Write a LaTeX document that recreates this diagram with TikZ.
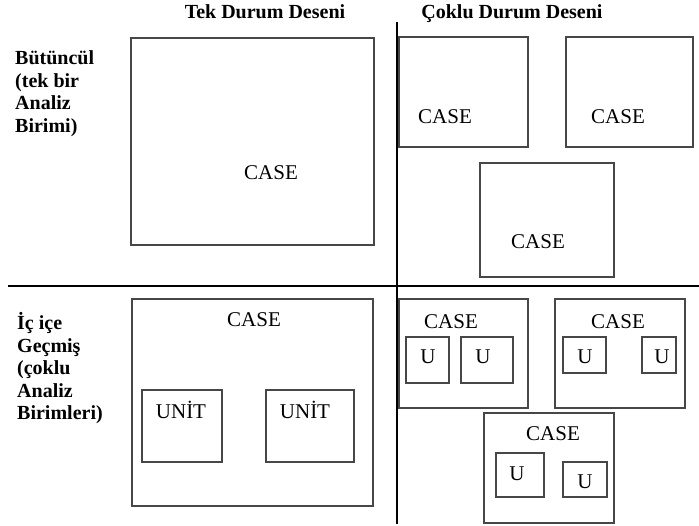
\documentclass[tikz,border=0pt]{standalone}
\usepackage{fontspec}
\setmainfont{Liberation Serif}
\begin{document}
\begin{tikzpicture}[x=1pt,y=-1pt,
  box/.style={draw=black!72,line width=1.3pt},
  divider/.style={draw=black,line width=2.8pt},
  lbl/.style={inner sep=0pt,anchor=base,font=\fontsize{21}{23}\selectfont},
  side/.style={inner sep=0pt,anchor=base west,font=\fontsize{20}{22.5}\selectfont\bfseries},
  head/.style={inner sep=0pt,anchor=base,font=\fontsize{20}{22.5}\selectfont\bfseries}]
\useasboundingbox (0,0) rectangle (699,526);
% headings
\node[head] (h1) at (265,19) {Tek Durum Deseni};
\node[head] (h2) at (512,19) {Çoklu Durum Deseni};
% side labels
\node[side] (s1) at (15,65) {Bütüncül};
\node[side] (s2) at (15,87.5) {(tek bir};
\node[side] (s3) at (15,110) {Analiz};
\node[side] (s4) at (15,132.5) {Birimi)};
\node[side] (s5) at (17,330) {İç içe};
\node[side] (s6) at (17,352.5) {Geçmiş};
\node[side] (s7) at (17,375) {(çoklu};
\node[side] (s8) at (17,397.5) {Analiz};
\node[side] (s9) at (17,420) {Birimleri)};
% dividers
\coordinate (vt) at (397,22);
\coordinate (vb) at (397,524);
\coordinate (hl) at (8,286);
\coordinate (hr) at (699,286);
\draw[divider] (vt) -- (vb);
\draw[divider] (hl) -- (hr);
% top-left
\draw[box] (131,38) rectangle (374,245);
\node[lbl] (c1) at (271,180) {CASE};
% top-right
\draw[box] (399,37) rectangle (528,147);
\node[lbl] (c2) at (445,124) {CASE};
\draw[box] (566,37) rectangle (693,147);
\node[lbl] (c3) at (618,124) {CASE};
\draw[box] (480,163) rectangle (614,277);
\node[lbl] (c4) at (538,249) {CASE};
% bottom-left
\draw[box] (132,299) rectangle (373,506);
\node[lbl] (c5) at (254,327) {CASE};
\draw[box] (142,390) rectangle (222,462);
\node[lbl] (u1) at (181,419) {UNİT};
\draw[box] (266,390) rectangle (354,462);
\node[lbl] (u2) at (305,419) {UNİT};
% bottom-right
\draw[box] (399,299) rectangle (528,408);
\node[lbl] (c6) at (451,329) {CASE};
\draw[box] (406,337) rectangle (449,383);
\node[lbl] (u3) at (428,364) {U};
\draw[box] (461,337) rectangle (513,383);
\node[lbl] (u4) at (483,364) {U};
\draw[box] (555,299) rectangle (685,408);
\node[lbl] (c7) at (618,329) {CASE};
\draw[box] (563,337) rectangle (606,373);
\node[lbl] (u5) at (585,364) {U};
\draw[box] (642,337) rectangle (676,373);
\node[lbl] (u6) at (662,364) {U};
\draw[box] (484,413) rectangle (614,523);
\node[lbl] (c8) at (553,441) {CASE};
\draw[box] (496,453) rectangle (544,497);
\node[lbl] (u7) at (517,480) {U};
\draw[box] (563,462) rectangle (607,497);
\node[lbl] (u8) at (585,489) {U};
\end{tikzpicture}
\end{document}
